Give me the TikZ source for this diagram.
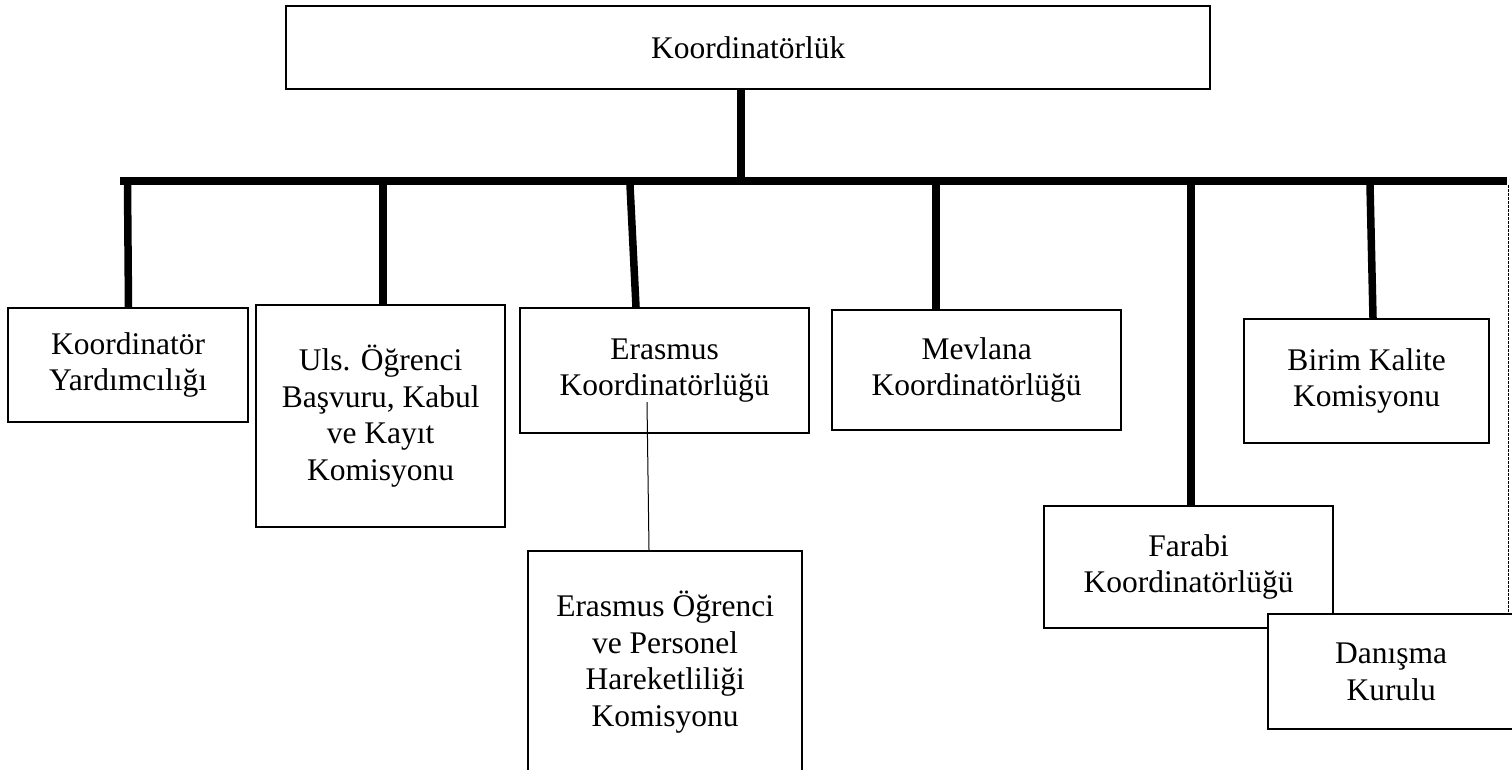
\documentclass[tikz,border=0pt]{standalone}
\usepackage{fontspec}
\setmainfont{Liberation Serif}
\begin{document}
\begin{tikzpicture}[x=1pt,y=-1pt,
  box/.style={draw, fill=white, line width=2.3pt, inner sep=0pt, align=center,
    anchor=north west, font=\fontsize{31.5}{36.5}\selectfont},
  thick bar/.style={line width=7.5pt, line cap=butt},
  thin link/.style={line width=1pt},
  dash link/.style={line width=0.9pt, dash pattern=on 2.5pt off 1.5pt}]
\useasboundingbox (0,0) rectangle (1512,769);
% nodes
\node[box, minimum width=924pt, minimum height=83pt] (top) at (285,5) {\raisebox{-2pt}{Koordinatörlük}};
\node[box, minimum width=240pt, minimum height=114pt] (yard) at (7,307) {Koordinatör\\Yardımcılığı};
\node[box, minimum width=249pt, minimum height=222pt] (uls) at (255,304) {Uls. Öğrenci\\Başvuru, Kabul\\ve Kayıt\\Komisyonu};
\node[box, minimum width=289pt, minimum height=125pt] (eras) at (519,307) {Erasmus\\Koordinatörlüğü};
\node[box, minimum width=274pt, minimum height=222pt] (erog) at (527,550) {Erasmus Öğrenci\\ve Personel\\Hareketliliği\\Komisyonu};
\node[box, minimum width=289pt, minimum height=120pt] (mev) at (831,309) {Mevlana\\Koordinatörlüğü};
\node[box, minimum width=245pt, minimum height=124pt] (birim) at (1243,318) {Birim Kalite\\Komisyonu};
\node[box, minimum width=289pt, minimum height=122pt] (far) at (1043,505) {Farabi\\Koordinatörlüğü};
\node[box, minimum width=246pt, minimum height=115pt] (dan) at (1267,613) {Danışma\\Kurulu};
% coordinates
\coordinate (barL) at (120,181);
\coordinate (barR) at (1507,181);
\coordinate (barM) at (741,181);
\coordinate (topB) at (741,88);
\coordinate (d1a) at (127.5,185);  \coordinate (d1b) at (128.5,307);
\coordinate (d2a) at (383,185);    \coordinate (d2b) at (383,304);
\coordinate (d3a) at (630,185);    \coordinate (d3b) at (636,307);
\coordinate (d4a) at (936,185);    \coordinate (d4b) at (936,309);
\coordinate (d5a) at (1191,185);   \coordinate (d5b) at (1191,505);
\coordinate (d6a) at (1370,185);   \coordinate (d6b) at (1373,318);
\coordinate (thinA) at (647,402);  \coordinate (thinB) at (649,550);
\coordinate (dashA) at (1508,185); \coordinate (dashB) at (1508,613);
% connectors
\draw[thick bar] (topB) -- (barM);
\draw[thick bar] (barL) -- (barR);
\draw[thick bar] (d1a) -- (d1b);
\draw[thick bar] (d2a) -- (d2b);
\draw[thick bar] (d3a) -- (d3b);
\draw[thick bar] (d4a) -- (d4b);
\draw[thick bar] (d5a) -- (d5b);
\draw[thick bar] (d6a) -- (d6b);
\draw[thin link] (thinA) -- (thinB);
\draw[dash link] (dashA) -- (dashB);
\end{tikzpicture}
\end{document}
